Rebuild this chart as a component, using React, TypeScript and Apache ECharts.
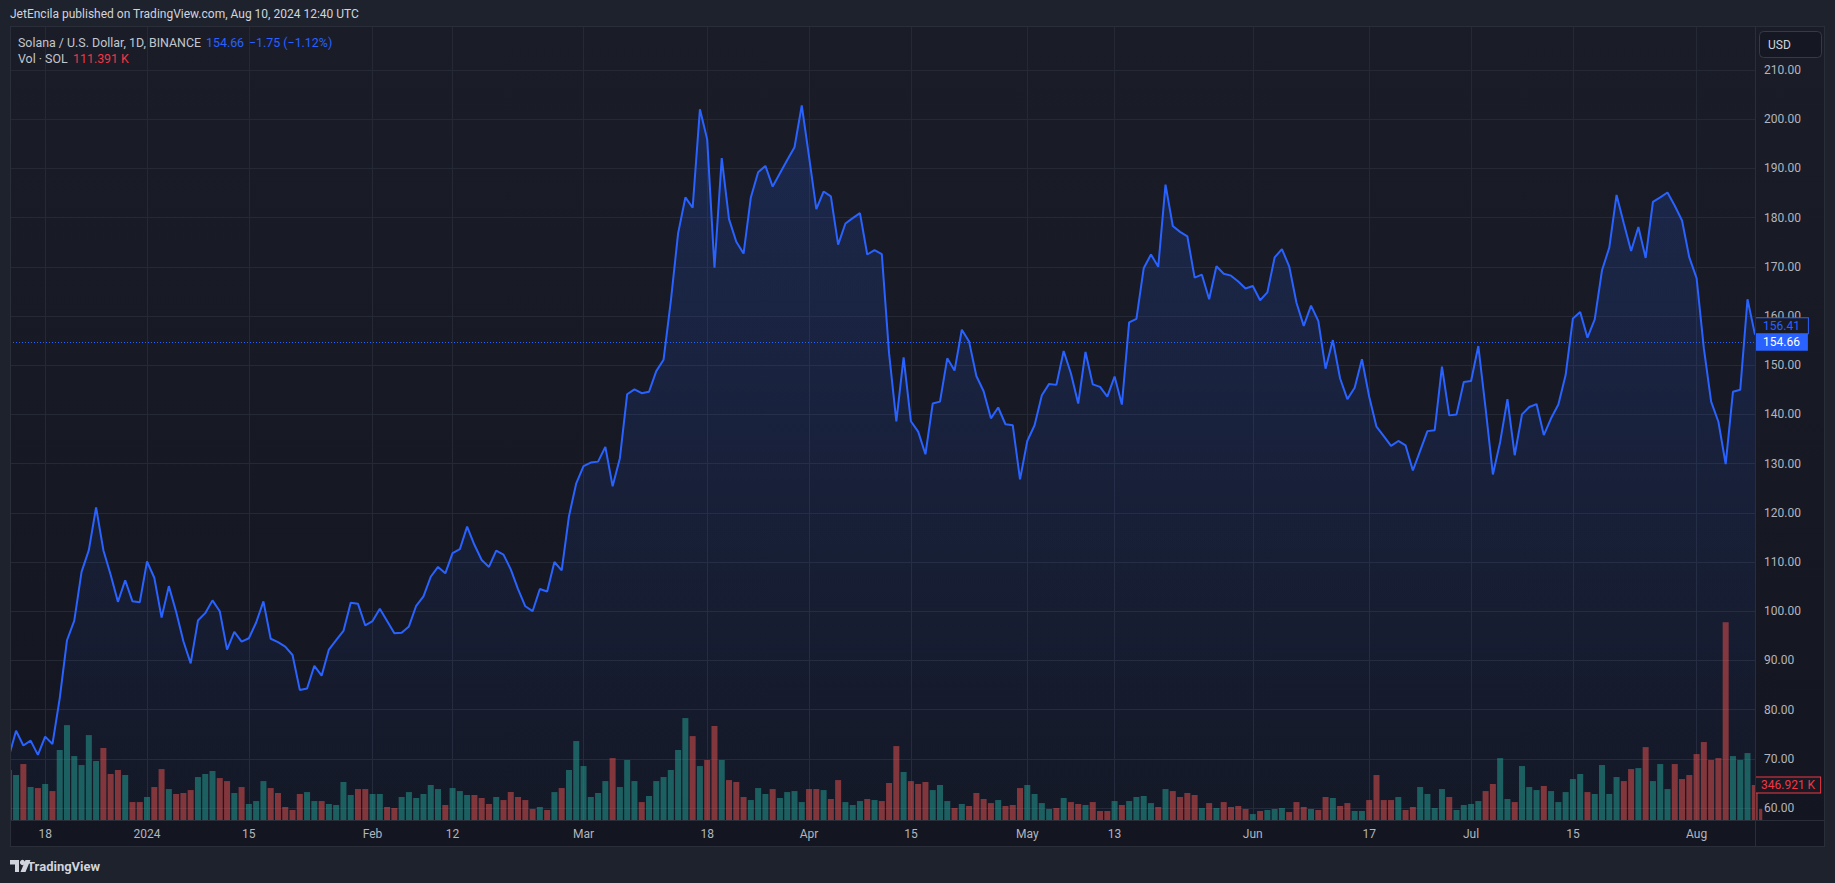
import React, { useEffect, useRef } from "react";
import * as echarts from "echarts";

// ---------------- data ----------------
const FIRST_DAY = "2023-12-13"; // one point per day from here

const PRICES_DEC = [70.4, 75.7, 72.7, 73.7, 70.8, 74.5, 73.0, 82.3, 94.1, 98.1, 108.0, 112.4, 121.1, 112.4, 107.4, 101.9, 106.3, 102.0, 101.8];
const PRICES_JAN = [110.1, 106.8, 98.7, 105.1, 99.9, 93.9, 89.4, 98.1, 99.6, 102.2, 100.0, 92.2, 95.8, 93.8, 94.5, 97.7, 102.0, 94.4, 93.7, 92.8, 91.1, 84.0, 84.3, 88.9, 86.9, 92.2, 94.1, 96.0, 101.7, 101.5, 97.1];
const PRICES_FEB = [98.0, 100.5, 98.0, 95.5, 95.6, 96.9, 101.1, 103.0, 107.0, 109.0, 107.7, 111.8, 112.6, 117.2, 113.5, 110.4, 109.0, 112.3, 111.5, 108.5, 104.5, 101.0, 100.0, 104.5, 104.0, 110.0, 108.3, 119.3, 126.0];
const PRICES_MAR = [129.5, 130.2, 130.4, 133.4, 125.4, 131.1, 144.1, 145.1, 144.3, 144.6, 148.8, 151.1, 163.0, 176.8, 184.1, 182.0, 202.0, 195.9, 169.8, 192.1, 179.7, 175.1, 172.7, 184.1, 189.2, 190.5, 186.3, 189.0, 191.7, 194.3, 202.8];
const PRICES_APR = [192.4, 181.7, 185.3, 184.3, 174.5, 178.8, 179.9, 180.9, 172.5, 173.4, 172.6, 152.4, 138.6, 151.6, 138.6, 136.5, 131.9, 142.2, 142.6, 151.4, 148.9, 157.2, 154.8, 147.8, 144.7, 139.2, 141.4, 138.0, 137.8, 126.8];
const PRICES_MAY = [134.6, 137.8, 143.9, 146.2, 146.0, 152.9, 148.3, 142.2, 152.7, 146.1, 145.6, 143.6, 147.7, 142.0, 158.7, 159.4, 169.7, 172.5, 170.0, 186.7, 178.3, 177.1, 176.2, 167.8, 168.4, 163.4, 170.1, 168.6, 168.2, 167.0, 165.6];
const PRICES_JUN = [166.1, 163.2, 164.8, 171.9, 173.6, 170.1, 162.7, 158.0, 162.1, 159.0, 149.3, 155.1, 147.3, 143.1, 145.4, 151.2, 143.6, 137.5, 135.6, 133.6, 134.6, 133.7, 128.6, 132.6, 136.6, 136.8, 149.7, 139.8, 140.0, 146.6];
const PRICES_JUL = [146.8, 153.9, 141.2, 127.8, 134.4, 143.1, 131.7, 140.0, 141.5, 142.1, 135.8, 139.2, 142.0, 148.0, 159.5, 160.8, 155.6, 159.3, 169.3, 173.9, 184.6, 178.8, 173.2, 178.1, 171.8, 183.2, 184.1, 185.1, 182.4, 179.4, 171.9];
const PRICES_AUG = [167.7, 153.4, 142.6, 138.5, 129.9, 144.6, 145.0, 163.4, 156.41, 154.66];

// volume, thousands of SOL
const VOL_DEC = [496, 446, 555, 327, 317, 357, 287, 694, 941, 634, 545, 842, 585, 714, 456, 496, 446, 178, 178];
const VOL_JAN = [228, 327, 505, 307, 258, 268, 297, 426, 456, 486, 416, 386, 268, 327, 159, 188, 386, 317, 268, 129, 99, 258, 277, 188, 188, 159, 149, 377, 248, 307, 307];
const VOL_FEB = [258, 258, 129, 119, 228, 277, 218, 258, 347, 307, 149, 317, 287, 248, 248, 218, 159, 228, 198, 277, 228, 198, 109, 129, 99, 277, 317, 496, 783];
const VOL_MAR = [535, 228, 268, 386, 614, 327, 595, 386, 178, 238, 386, 426, 496, 694, 1011, 832, 535, 595, 932, 595, 396, 377, 228, 198, 317, 258, 307, 218, 277, 287, 178];
const VOL_APR = [307, 307, 297, 208, 396, 178, 149, 188, 208, 198, 188, 367, 733, 476, 386, 357, 377, 297, 347, 188, 119, 159, 139, 268, 208, 168, 198, 139, 149, 317];
const VOL_MAY = [347, 258, 168, 109, 119, 218, 178, 159, 149, 178, 89, 89, 188, 149, 188, 228, 238, 168, 129, 307, 287, 228, 268, 248, 119, 168, 119, 178, 129, 139, 109];
const VOL_JUN = [59, 89, 99, 109, 119, 79, 178, 129, 109, 99, 228, 218, 139, 168, 89, 89, 198, 446, 198, 198, 228, 99, 129, 327, 258, 119, 307, 228, 99, 149];
const VOL_JUL = [159, 188, 287, 357, 614, 208, 178, 535, 327, 297, 337, 287, 178, 277, 406, 456, 277, 258, 545, 258, 426, 386, 505, 515, 723, 386, 555, 307, 555, 406, 446];
const VOL_AUG = [654, 773, 595, 614, 1962, 634, 595, 664, 346.921, 111.391];

const TICK_DATES = ["2023-12-18", "2024-01-01", "2024-01-15", "2024-02-01", "2024-02-12", "2024-03-01", "2024-03-18", "2024-04-01", "2024-04-15", "2024-05-01", "2024-05-13", "2024-06-01", "2024-06-17", "2024-07-01", "2024-07-15", "2024-08-01"];
const TICK_LABELS = ["18", "2024", "15", "Feb", "12", "Mar", "18", "Apr", "15", "May", "13", "Jun", "17", "Jul", "15", "Aug"];
const PRICE_TICKS = [60, 70, 80, 90, 100, 110, 120, 130, 140, 150, 160, 170, 180, 190, 200, 210];

const LAST_PRICE = 154.66;
const PREV_CLOSE = 156.41;
const LAST_CHANGE = "\u22121.75";
const LAST_CHANGE_PCT = "\u22121.12%";
const LABEL_VOL = 346.921;
const LEGEND_VOL = "111.391 K";

// ---------------- helpers ----------------
const DAY = 86400000;
const ts = (s: string) => Date.parse(s + "T00:00:00Z");

const PRICES = [...PRICES_DEC, ...PRICES_JAN, ...PRICES_FEB, ...PRICES_MAR, ...PRICES_APR, ...PRICES_MAY, ...PRICES_JUN, ...PRICES_JUL, ...PRICES_AUG];
const VOLUMES = [...VOL_DEC, ...VOL_JAN, ...VOL_FEB, ...VOL_MAR, ...VOL_APR, ...VOL_MAY, ...VOL_JUN, ...VOL_JUL, ...VOL_AUG];
const T0 = ts(FIRST_DAY);
const TIMES = PRICES.map((_, i) => T0 + i * DAY);
const TICK_TS = TICK_DATES.map(ts);

const VIEW_START = T0 + 0.165 * DAY;
const VIEW_END = ts("2024-08-09") + 0.03 * DAY;

const UP = "rgba(38,166,154,0.5)";
const DOWN = "rgba(239,83,80,0.5)";
const BLUE = "#2962ff";
const GRID = "#252935";
const TEXT = "#b2b5be";
const FONT = "Roboto, 'Noto Sans', sans-serif";
const CLEAR = "rgba(0,0,0,0)";
const OUTER = "#1e222d";

const W = 1835;
const H = 883;
const PL = 10, PR = 1755, PT = 26, PB = 820, FR = 1825, FB = 847;

export default function App() {
  const ref = useRef<HTMLDivElement>(null);

  useEffect(() => {
    if (!ref.current) return;
    const chart = echarts.init(ref.current, undefined, { renderer: "svg" });

    const priceData = PRICES.map((p, i) => [TIMES[i], p]);
    const volData = VOLUMES.map((v, i) => ({
      value: [TIMES[i], v],
      itemStyle: { color: i === 0 || PRICES[i] >= PRICES[i - 1] ? UP : DOWN },
    }));

    const frameLine = (x1: number, y1: number, x2: number, y2: number) => ({
      type: "line",
      z: 20,
      silent: true,
      shape: { x1, y1, x2, y2 },
      style: { stroke: "#2a2e39", lineWidth: 1 },
    });

    const legendText = (text: string, x: number, y: number, fill: string) => ({
      type: "text",
      z: 20,
      silent: true,
      style: { text, x, y, fill, font: "12.4px " + FONT, textVerticalAlign: "middle" },
    });

    const option: any = {
      animation: false,
      backgroundColor: OUTER,
      textStyle: { fontFamily: FONT },
      grid: [
        { left: PL, right: W - PR, top: PT, bottom: H - PB, containLabel: false },
        { left: PL, right: W - PR, top: 578, bottom: H - PB, containLabel: false },
      ],
      xAxis: [
        {
          type: "value",
          gridIndex: 0,
          min: VIEW_START,
          max: VIEW_END,
          axisLine: { show: false },
          axisTick: { show: false, customValues: TICK_TS },
          axisLabel: {
            customValues: TICK_TS,
            color: TEXT,
            fontSize: 12,
            fontFamily: FONT,
            margin: 8,
            formatter: (v: number) => {
              const i = TICK_TS.findIndex((t) => Math.abs(t - v) < DAY / 2);
              return i >= 0 ? TICK_LABELS[i] : "";
            },
          },
          splitLine: { show: true, lineStyle: { color: GRID, width: 1 } },
        },
        {
          type: "value",
          gridIndex: 1,
          min: VIEW_START,
          max: VIEW_END,
          show: false,
          splitLine: { show: false },
        },
      ],
      yAxis: [
        {
          type: "value",
          gridIndex: 0,
          position: "right",
          min: 57.561,
          max: 218.943,
          axisLine: { show: false },
          axisTick: { show: false, customValues: PRICE_TICKS },
          axisLabel: {
            customValues: PRICE_TICKS,
            color: TEXT,
            fontSize: 12,
            fontFamily: FONT,
            margin: 9,
            formatter: (v: number) => v.toFixed(2),
          },
          splitLine: { show: true, lineStyle: { color: GRID, width: 1 } },
        },
        {
          type: "value",
          gridIndex: 1,
          min: 0,
          max: 2400,
          show: false,
          splitLine: { show: false },
        },
      ],
      series: [
        {
          name: "area",
          type: "line",
          xAxisIndex: 0,
          yAxisIndex: 0,
          data: priceData,
          showSymbol: false,
          silent: true,
          clip: true,
          z: 1,
          lineStyle: { width: 0, opacity: 0 },
          areaStyle: {
            color: new echarts.graphic.LinearGradient(0, 0, 0, 1, [
              { offset: 0, color: "rgba(41,98,255,0.25)" },
              { offset: 1, color: "rgba(41,98,255,0.04)" },
            ]),
          },
        },
        {
          name: "Vol",
          type: "bar",
          xAxisIndex: 1,
          yAxisIndex: 1,
          data: volData,
          barWidth: 6,
          clip: true,
          z: 2,
          silent: true,
          markLine: {
            silent: true,
            symbol: ["none", "none"],
            animation: false,
            lineStyle: { color: CLEAR, width: 1, type: "solid" },
            label: {
              show: true,
              position: "end",
              distance: 1,
              formatter: LABEL_VOL.toFixed(3) + " K",
              color: "#f23645",
              backgroundColor: "#161a24",
              borderColor: "#f23645",
              borderWidth: 1,
              padding: [2, 5, 1, 5],
              fontSize: 12,
              fontFamily: FONT,
            },
            data: [{ yAxis: LABEL_VOL }],
          },
        },
        {
          name: "SOLUSD",
          type: "line",
          xAxisIndex: 0,
          yAxisIndex: 0,
          data: priceData,
          showSymbol: false,
          silent: true,
          clip: true,
          z: 3,
          lineStyle: { color: BLUE, width: 2 },
          markLine: {
            silent: true,
            symbol: ["none", "none"],
            animation: false,
            data: [
              {
                yAxis: PREV_CLOSE,
                lineStyle: { color: CLEAR, width: 1, type: "solid" },
                label: {
                  show: true,
                  position: "end",
                  distance: 1,
                  offset: [0, -8],
                  formatter: PREV_CLOSE.toFixed(2),
                  color: BLUE,
                  backgroundColor: "#181b26",
                  borderColor: BLUE,
                  borderWidth: 1,
                  padding: [2, 8, 1, 7],
                  fontSize: 12,
                  fontFamily: FONT,
                },
              },
              {
                yAxis: LAST_PRICE,
                lineStyle: { color: BLUE, width: 1, type: [1, 2] },
                label: {
                  show: true,
                  position: "end",
                  distance: 1,
                  formatter: LAST_PRICE.toFixed(2),
                  color: "#ffffff",
                  backgroundColor: BLUE,
                  padding: [3, 8, 2, 7],
                  fontSize: 12,
                  fontFamily: FONT,
                },
              },
            ],
          },
        },
      ],
      graphic: [
        {
          type: "rect",
          z: -10,
          silent: true,
          shape: { x: PL, y: PT, width: FR - PL, height: FB - PT },
          style: {
            fill: new echarts.graphic.LinearGradient(0, 0, 0, 1, [
              { offset: 0, color: "#1a1d28" },
              { offset: 1, color: "#131620" },
            ]),
          },
        },
        // outer margin left of the pane (covers anything drawn past the pane's left edge)
        {
          type: "rect",
          z: 15,
          silent: true,
          shape: { x: 0, y: PT, width: PL, height: FB - PT },
          style: { fill: OUTER },
        },
        frameLine(PL, PT + 0.5, FR, PT + 0.5),
        frameLine(PL + 0.5, PT, PL + 0.5, FB),
        frameLine(PL, FB - 0.5, FR, FB - 0.5),
        frameLine(FR - 0.5, PT, FR - 0.5, FB),
        frameLine(PR + 0.5, PT, PR + 0.5, FB),
        frameLine(PL, PB + 0.5, FR, PB + 0.5),
        {
          type: "text",
          z: 20,
          silent: true,
          style: {
            text: "JetEncila published on TradingView.com, Aug 10, 2024 12:40 UTC",
            x: 10,
            y: 14,
            fill: "#d1d4dc",
            font: "12px " + FONT,
            textVerticalAlign: "middle",
          },
        },
        legendText("Solana / U.S. Dollar, 1D, BINANCE", 18, 42, "#c3c6ce"),
        legendText(LAST_PRICE.toFixed(2), 206, 42, BLUE),
        legendText(LAST_CHANGE + " (" + LAST_CHANGE_PCT + ")", 249, 42, BLUE),
        legendText("Vol \u00b7 SOL", 18, 58, "#c3c6ce"),
        legendText(LEGEND_VOL, 73, 58, "#f23645"),
        {
          type: "rect",
          z: 20,
          silent: true,
          shape: { x: 1759.5, y: 31.5, width: 62, height: 26, r: 4 },
          style: { fill: "#151822", stroke: "#363a45", lineWidth: 1 },
        },
        {
          type: "text",
          z: 21,
          silent: true,
          style: { text: "USD", x: 1768, y: 45, fill: "#d1d4dc", font: "12px " + FONT, textVerticalAlign: "middle" },
        },
        {
          type: "group",
          x: 10,
          y: 859,
          z: 20,
          silent: true,
          children: [
            {
              type: "polygon",
              shape: { points: [[0, 1], [9, 1], [9, 13], [5, 13], [5, 5.5], [0, 5.5]] },
              style: { fill: "#d1d4dc" },
            },
            { type: "circle", shape: { cx: 12.5, cy: 3.5, r: 2.6 }, style: { fill: "#d1d4dc" } },
            {
              type: "polygon",
              shape: { points: [[10.5, 13], [15.5, 1], [20.5, 1], [15.5, 13]] },
              style: { fill: "#d1d4dc" },
            },
          ],
        },
        {
          type: "text",
          z: 20,
          silent: true,
          style: { text: "TradingView", x: 27, y: 866, fill: "#d1d4dc", font: "bold 13px " + FONT, textVerticalAlign: "middle" },
        },
      ],
    };

    chart.setOption(option);
    return () => chart.dispose();
  }, []);

  return (
    <div
      ref={ref}
      style={{ position: "fixed", left: 0, top: 0, width: W, height: H }}
    />
  );
}
